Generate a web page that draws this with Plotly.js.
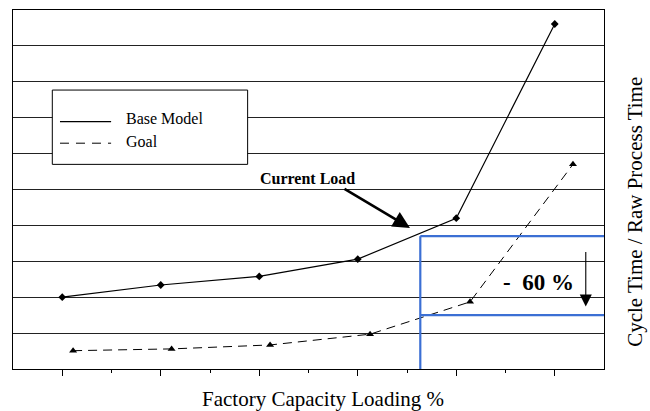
<!DOCTYPE html>
<html>
<head>
<meta charset="utf-8">
<script src="https://cdn.plot.ly/plotly-3.0.1.min.js"></script>
<style>html,body{margin:0;padding:0;background:#fff;}#chart{width:650px;height:411px;}</style>
</head>
<body>
<div id="chart"></div>
<script>
// Data
var baseX = [1, 3, 5, 7, 9, 11];
var baseY = [2.0, 2.34, 2.58, 3.06, 4.2, 9.61];
var goalX = [1.22, 3.22, 5.22, 7.25, 9.28, 11.37];
var goalY = [0.51, 0.56, 0.67, 0.97, 1.87, 5.70];
var seriesNames = ["Base Model", "Goal"];
var majorTicks = [1, 3, 5, 7, 9, 11];
var minorTicks = [2, 4, 6, 8, 10];
var currentLoadX = 8.27;   // vertical marker
var levelBefore = 3.70;    // upper blue line
var levelAfter = 1.50;     // lower blue line
var reductionLabel = "-  60 %";

var FONT = "Liberation Serif, Times New Roman, serif";
var BLUE = "#3b6fd4";

var traces = [
  {x: baseX, y: baseY, name: seriesNames[0], mode: "lines+markers",
   line: {color: "#000", width: 1.2}, marker: {symbol: "diamond", size: 6, color: "#000"}},
  {x: goalX, y: goalY, name: seriesNames[1], mode: "lines+markers",
   line: {color: "#000", width: 1, dash: "9px,6px"}, marker: {symbol: "triangle-up", size: 7, color: "#000"}}
];

var shapes = [
  // blue current-load box
  {type: "line", xref: "x", yref: "y", x0: currentLoadX, x1: currentLoadX, y0: 0, y1: levelBefore, line: {color: BLUE, width: 2.2}},
  {type: "line", xref: "x", yref: "y", x0: currentLoadX, x1: 12, y0: levelBefore, y1: levelBefore, line: {color: BLUE, width: 2.2}},
  {type: "line", xref: "x", yref: "y", x0: currentLoadX, x1: 12, y0: levelAfter, y1: levelAfter, line: {color: BLUE, width: 2.2}},
  // custom legend box
  {type: "rect", xref: "paper", yref: "paper", x0: 0.0665, x1: 0.397, y0: 0.570, y1: 0.777,
   line: {color: "#000", width: 1}, fillcolor: "#fff", layer: "above"},
  {type: "line", xref: "paper", yref: "paper", x0: 0.0795, x1: 0.166, y0: 0.689, y1: 0.689, line: {color: "#000", width: 1.2}},
  {type: "line", xref: "paper", yref: "paper", x0: 0.0795, x1: 0.166, y0: 0.629, y1: 0.629, line: {color: "#000", width: 1, dash: "9px,7px"}}
];

var annotations = [
  {xref: "paper", yref: "paper", x: 0.188, y: 0.697, xanchor: "left", yanchor: "middle", showarrow: false,
   text: seriesNames[0], font: {family: FONT, size: 16, color: "#000"}},
  {xref: "paper", yref: "paper", x: 0.188, y: 0.633, xanchor: "left", yanchor: "middle", showarrow: false,
   text: seriesNames[1], font: {family: FONT, size: 16, color: "#000"}},
  {xref: "x", yref: "y", x: 5.97, y: 5.32, xanchor: "center", yanchor: "middle", showarrow: false, text: "<b>Current Load</b>",
   font: {family: FONT, size: 16, color: "#000"}},
  {xref: "x", yref: "y", axref: "x", ayref: "y", x: 8.06, y: 3.93, ax: 6.70, ay: 5.04, text: "",
   showarrow: true, arrowhead: 2, arrowsize: 1.3, arrowwidth: 2.6, arrowcolor: "#000"},
  {xref: "x", yref: "y", x: 10.66, y: 2.40, xanchor: "center", yanchor: "middle", showarrow: false, text: "<b>" + reductionLabel + "</b>",
   font: {family: FONT, size: 23, color: "#000"}},
  {xref: "x", yref: "y", axref: "x", ayref: "y", x: 11.63, y: 1.74, ax: 11.63, ay: 3.30, text: "",
   showarrow: true, arrowhead: 2, arrowsize: 2.2, arrowwidth: 1.1, arrowcolor: "#000"},
  {xref: "paper", yref: "paper", x: 0.525, y: -0.083, xanchor: "center", yanchor: "middle", showarrow: false,
   text: "Factory Capacity Loading %", font: {family: FONT, size: 21, color: "#000"}},
  {xref: "paper", yref: "paper", x: 1.052, y: 0.437, xanchor: "center", yanchor: "middle", showarrow: false, textangle: -90,
   text: "Cycle Time / Raw Process Time", font: {family: FONT, size: 21, color: "#000"}}
];

var layout = {
  width: 650, height: 411,
  margin: {l: 13, r: 46, t: 10, b: 42, pad: 0},
  paper_bgcolor: "#fff", plot_bgcolor: "#fff",
  showlegend: false,
  font: {family: FONT, color: "#000"},
  xaxis: {range: [0, 12], tickmode: "array", tickvals: majorTicks, showticklabels: false,
          ticks: "outside", ticklen: 6, tickwidth: 1, tickcolor: "#000",
          minor: {tickmode: "array", tickvals: minorTicks, ticks: "outside", ticklen: 3, tickwidth: 1, tickcolor: "#000", showgrid: false},
          showgrid: false, zeroline: false, showline: true, linecolor: "#000", linewidth: 1.2, mirror: true, fixedrange: true},
  yaxis: {range: [0, 10], dtick: 1, tick0: 0, showticklabels: false, ticks: "",
          showgrid: true, gridcolor: "#222", gridwidth: 1, zeroline: false,
          showline: true, linecolor: "#000", linewidth: 1.2, mirror: true, fixedrange: true},
  shapes: shapes,
  annotations: annotations
};

Plotly.newPlot("chart", traces, layout, {displayModeBar: false, staticPlot: true});
</script>
</body>
</html>
